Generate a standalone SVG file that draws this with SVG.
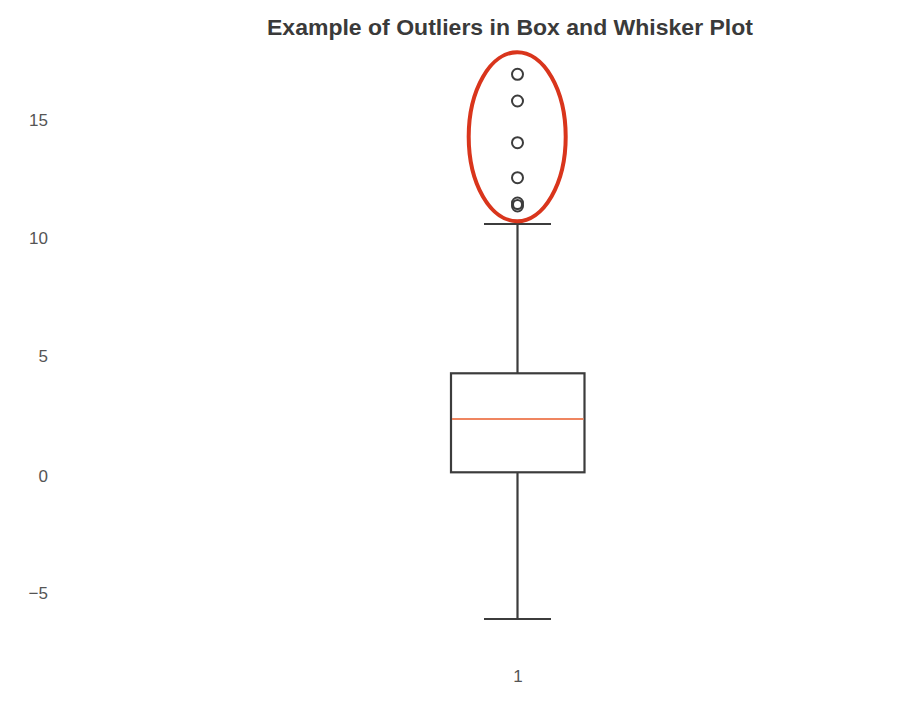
<svg xmlns="http://www.w3.org/2000/svg" width="904" height="720" viewBox="0 0 904 720">
<style>
.title{font-family:"Liberation Sans",Arial,sans-serif;font-weight:bold;font-size:22px;fill:#3a3a3a}
.tick{font-family:"Liberation Sans",Arial,sans-serif;font-size:17px;fill:#555}
.ln{stroke:#3c3c3c;stroke-width:2.2;fill:none}
.flier{stroke:#3c3c3c;stroke-width:2;fill:#fff}
</style>
<rect width="904" height="720" fill="#fff"/>
<text class="title" x="267" y="35" textLength="486" lengthAdjust="spacingAndGlyphs">Example of Outliers in Box and Whisker Plot</text>
<g id="yaxis">
<text class="tick" x="48" y="126" text-anchor="end">15</text>
<text class="tick" x="48" y="244" text-anchor="end">10</text>
<text class="tick" x="48" y="362" text-anchor="end">5</text>
<text class="tick" x="48" y="482" text-anchor="end">0</text>
<text class="tick" x="48" y="599" text-anchor="end">−5</text>
</g>
<g id="xaxis">
<text class="tick" x="518" y="682" text-anchor="middle">1</text>
</g>
<g id="connectors">
<line class="ln" x1="517.5" y1="224" x2="517.5" y2="373.3"/>
<line class="ln" x1="484" y1="224" x2="551" y2="224"/>
<line class="ln" x1="517.5" y1="472.3" x2="517.5" y2="619"/>
<line class="ln" x1="484" y1="619" x2="551" y2="619"/>
</g>
<g id="box">
<rect class="ln" x="451" y="373.3" width="133.5" height="99"/>
<line x1="452" y1="419" x2="583.5" y2="419" stroke="#ef8560" stroke-width="2.2"/>
</g>
<g id="outliers">
<circle class="flier" cx="517.5" cy="74.3" r="5.5"/>
<circle class="flier" cx="517.5" cy="101" r="5.5"/>
<circle class="flier" cx="517.5" cy="142.7" r="5.5"/>
<circle class="flier" cx="517.5" cy="177.7" r="5.5"/>
<circle class="flier" cx="517.5" cy="206" r="5.5"/>
<circle class="flier" cx="517.5" cy="203" r="5.5"/>
<circle class="flier" cx="517.5" cy="204.5" r="4.5" stroke-width="3"/>
</g>
<g id="highlight">
<ellipse cx="517.2" cy="136.7" rx="48.5" ry="84.5" fill="none" stroke="#d9351c" stroke-width="4"/>
</g>
</svg>
